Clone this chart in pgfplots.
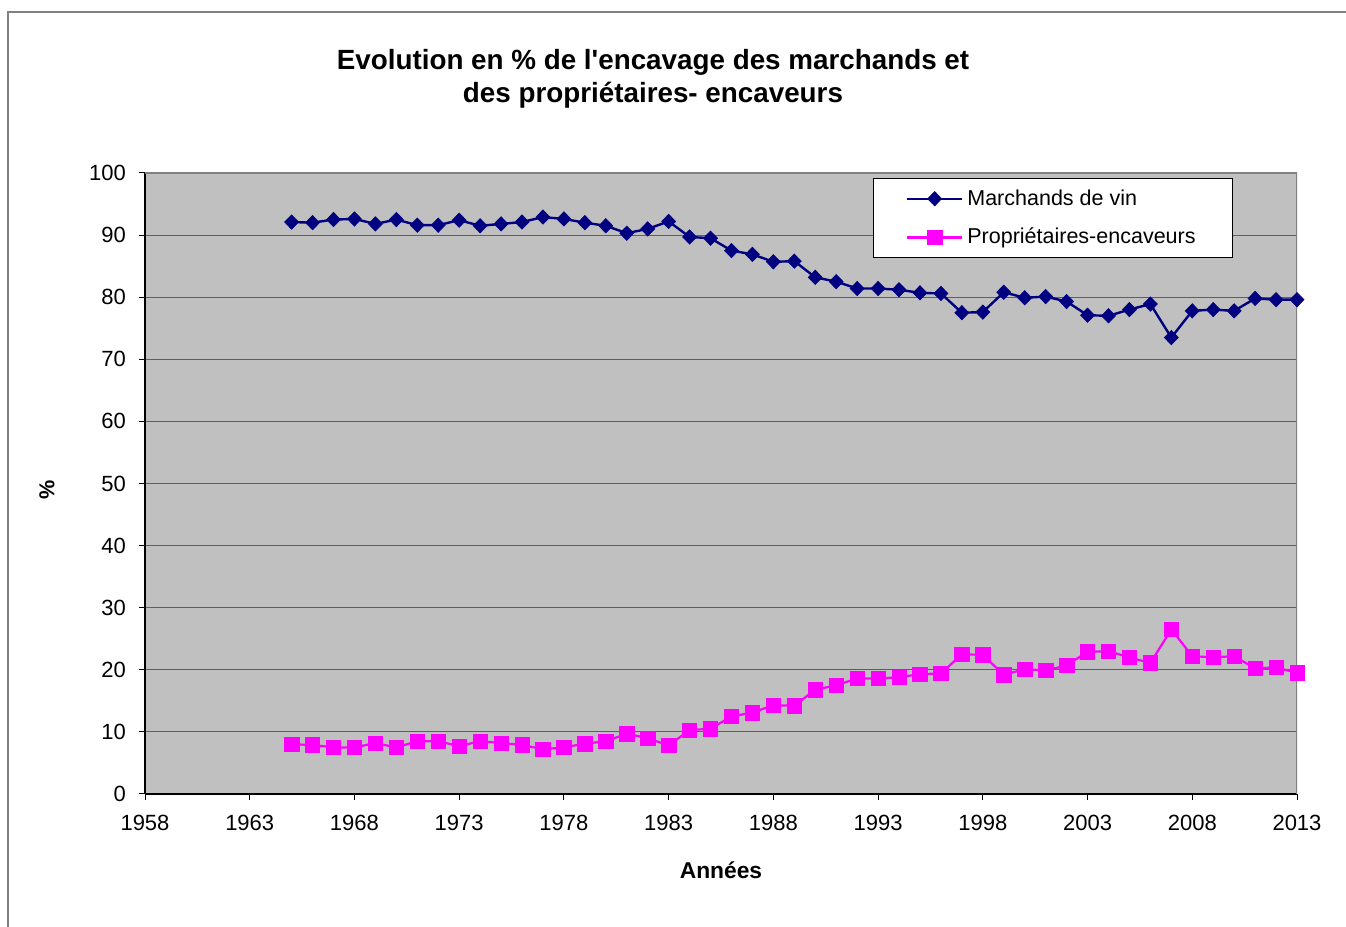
\documentclass[border=0pt]{standalone}
\usepackage{pgfplots}
\pgfplotsset{compat=1.18}
\usepackage{fontspec}
\setmainfont{Liberation Sans}
\definecolor{bgc}{RGB}{192,192,192}
\definecolor{gridc}{RGB}{95,95,95}
\definecolor{framec}{RGB}{128,128,128}
\definecolor{navyc}{RGB}{0,0,128}
\definecolor{magc}{RGB}{255,0,255}
\begin{document}
\begin{tikzpicture}
\useasboundingbox (0,0) rectangle (673pt,463.5pt);
\draw[line width=0.6pt, color=framec] (4pt,0) -- (4pt,457.5pt) -- (673pt,457.5pt);
\node[font=\fontsize{13.9}{16.5}\selectfont\bfseries, align=center] at (326.5pt,424pt) {Evolution en \% de l\textquotesingle encavage des marchands et\\des propriétaires- encaveurs};
\node[font=\fontsize{10.8}{12}\selectfont\bfseries, rotate=90] at (23.5pt,218.5pt) {\%};
\node[font=\fontsize{11.4}{12}\selectfont\bfseries] at (360.5pt,28.5pt) {Années};
\begin{axis}[
  at={(72.5pt,66.5pt)}, anchor=south west,
  width=576pt, height=310.5pt, scale only axis,
  xmin=1958, xmax=2013, ymin=0, ymax=100,
  xtick={1958,1963,...,2013}, ytick={0,10,...,100},
  axis x line*=bottom, axis y line*=left,
  axis line style={-, black, line width=0.6pt},
  tick align=outside, major tick length=3pt,
  tick style={black, line width=0.5pt},
  ymajorgrids, grid style={gridc, line width=0.5pt},
  axis background/.style={fill=bgc},
  /pgf/number format/1000 sep={},
  /pgf/number format/assume math mode=true,
  ticklabel style={font=\fontsize{11}{12}\selectfont},
  xticklabel style={yshift=-4pt},
  yticklabel style={xshift=-3pt},
  legend cell align=left,
  legend style={at={(0.632,0.992)}, anchor=north west, draw=black, fill=white,
    line width=0.5pt,
    font=\fontsize{10.75}{12}\selectfont, inner xsep=16.2pt, inner ysep=3.5pt,
    row sep=6pt, minimum width=0pt},
  legend image code/.code={\draw[mark repeat=2, mark phase=2] plot coordinates {(0pt,0pt) (13.75pt,0pt) (27.5pt,0pt)};},
]
\draw[framec, line width=1.2pt] (rel axis cs:0,1) -- (rel axis cs:1,1) -- (rel axis cs:1,0);
\addplot[navyc, line width=1.2pt, mark=diamond*, mark size=3.6pt, mark options={xscale=1.3, solid, fill=navyc, line width=0.3pt}] coordinates {
(1965,92.1) (1966,92.0) (1967,92.5) (1968,92.6) (1969,91.8) (1970,92.5) (1971,91.6) (1972,91.6) (1973,92.4) (1974,91.5) (1975,91.8) (1976,92.1) (1977,92.9) (1978,92.6) (1979,92.0) (1980,91.5) (1981,90.3) (1982,91.0) (1983,92.2) (1984,89.7) (1985,89.5) (1986,87.5) (1987,86.9) (1988,85.7) (1989,85.8) (1990,83.2) (1991,82.5) (1992,81.4) (1993,81.4) (1994,81.2) (1995,80.7) (1996,80.6) (1997,77.5) (1998,77.6) (1999,80.8) (2000,79.9) (2001,80.1) (2002,79.3) (2003,77.1) (2004,77.0) (2005,78.0) (2006,78.9) (2007,73.5) (2008,77.8) (2009,78.0) (2010,77.8) (2011,79.8) (2012,79.6) (2013,79.6)
};
\addlegendentry{Marchands de vin}
\addplot[magc, line width=1.1pt, mark=square*, mark size=3.6pt, mark options={solid, fill=magc, line width=0.3pt}] coordinates {
(1965,8.0) (1966,7.9) (1967,7.5) (1968,7.5) (1969,8.2) (1970,7.5) (1971,8.5) (1972,8.5) (1973,7.7) (1974,8.5) (1975,8.2) (1976,7.9) (1977,7.2) (1978,7.5) (1979,8.1) (1980,8.5) (1981,9.7) (1982,9.0) (1983,7.8) (1984,10.3) (1985,10.5) (1986,12.5) (1987,13.1) (1988,14.3) (1989,14.2) (1990,16.8) (1991,17.5) (1992,18.6) (1993,18.6) (1994,18.8) (1995,19.3) (1996,19.4) (1997,22.5) (1998,22.4) (1999,19.2) (2000,20.1) (2001,19.9) (2002,20.7) (2003,22.9) (2004,23.0) (2005,22.0) (2006,21.1) (2007,26.5) (2008,22.2) (2009,22.0) (2010,22.2) (2011,20.2) (2012,20.4) (2013,19.5)
};
\addlegendentry{Propriétaires-encaveurs}
\end{axis}
\end{tikzpicture}
\end{document}
